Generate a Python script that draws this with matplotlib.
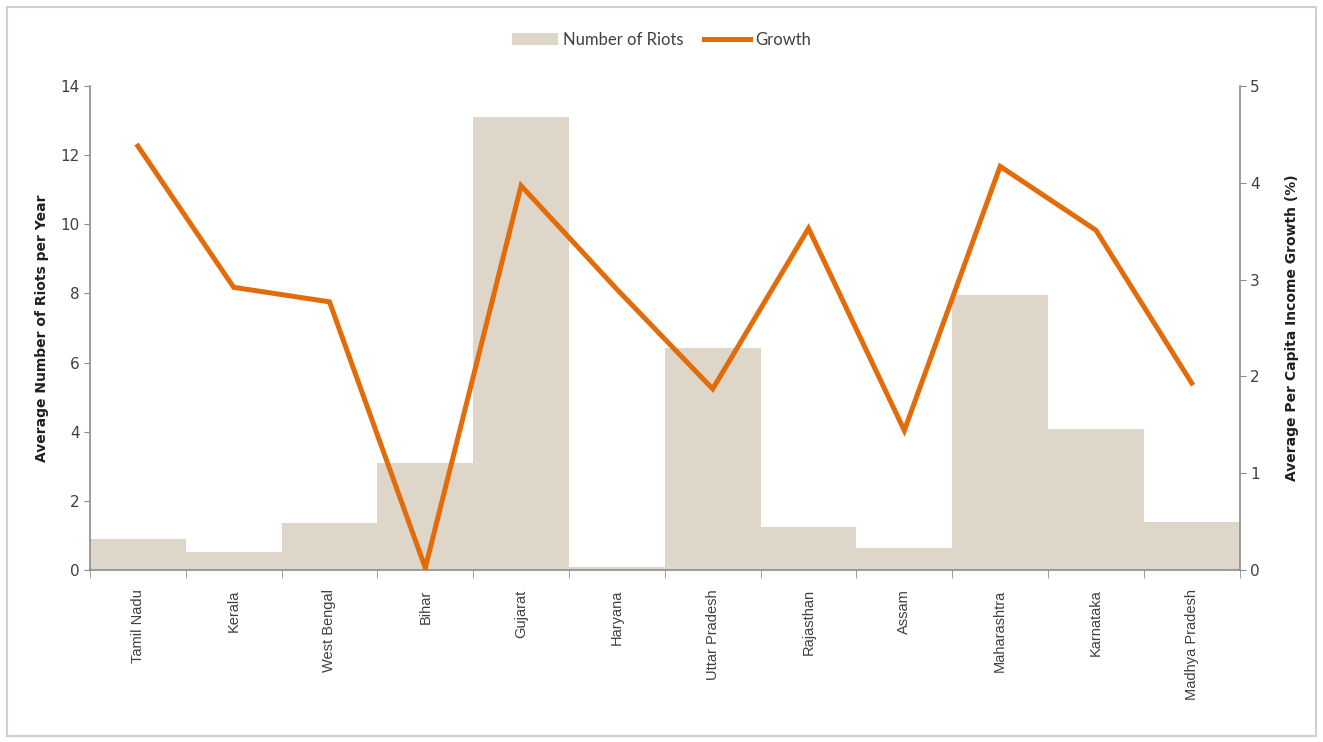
import matplotlib.pyplot as plt
import numpy as np
from matplotlib.lines import Line2D
from matplotlib.patches import Patch

states = ["Tamil Nadu", "Kerala", "West Bengal", "Bihar", "Gujarat", "Haryana",
          "Uttar Pradesh", "Rajasthan", "Assam", "Maharashtra", "Karnataka",
          "Madhya Pradesh"]
riots = [0.9, 0.52, 1.36, 3.1, 13.1, 0.08, 6.42, 1.25, 0.64, 7.95, 4.08, 1.39]
growth = [4.38, 2.92, 2.77, 0.02, 3.97, 2.9, 1.87, 3.53, 1.44, 4.17, 3.51, 1.93]

bar_col = "#ddd6c9"
line_col = "#e36c0a"
axis_col = "#8c8c8c"
text_col = "#404040"

# faint grid texture on the bars
plt.rcParams["hatch.color"] = "#e8e3da"
plt.rcParams["hatch.linewidth"] = 0.4

fig = plt.figure(figsize=(13.23, 7.42), dpi=100)
# thin grey frame around the whole chart
fig.patches.append(plt.Rectangle((0.005, 0.008), 0.99, 0.982, transform=fig.transFigure,
                                 fill=False, edgecolor="#d0d0d0", linewidth=1.5))

ax = fig.add_axes([0.068, 0.232, 0.869, 0.652])
x = np.arange(len(states))
ax.bar(x, riots, width=1.0, color=bar_col, edgecolor="none", hatch="++++",
       zorder=1)
ax.set_xlim(-0.5, len(states) - 0.5)
ax.set_ylim(0, 14)
ax.set_yticks(range(0, 15, 2))
ax.set_xticks(x)
ax.set_xticklabels(states, rotation=90, fontsize=10.5, color=text_col,
                   family="Liberation Sans")
ax.set_xticks(np.arange(-0.5, len(states), 1.0), minor=True)
ax.tick_params(axis="x", which="major", length=0, pad=14)
ax.tick_params(axis="x", which="minor", length=6, color=axis_col, direction="out")
ax.tick_params(axis="y", length=4, color=axis_col, labelcolor=text_col, labelsize=11)
ax.set_ylabel("Average Number of Riots per Year", fontsize=10, fontweight="bold",
              color="#202020", labelpad=8)
for s in ["top", "right"]:
    ax.spines[s].set_visible(False)
for s in ["left", "bottom"]:
    ax.spines[s].set_color(axis_col)
    ax.spines[s].set_linewidth(1.2)

ax2 = ax.twinx()
ax2.plot(x, growth, color=line_col, linewidth=3.6, solid_joinstyle="miter", zorder=3)
ax2.set_ylim(0, 5)
ax2.set_yticks(range(0, 6))
ax2.tick_params(axis="y", length=4, color=axis_col, labelcolor=text_col, labelsize=11)
ax2.set_ylabel("Average Per Capita Income Growth (%)", fontsize=10, fontweight="bold",
               color="#202020", labelpad=18)
for s in ["top", "left", "bottom"]:
    ax2.spines[s].set_visible(False)
ax2.spines["right"].set_color(axis_col)
ax2.spines["right"].set_linewidth(1.2)

handles = [Patch(facecolor=bar_col, edgecolor="none"),
           Line2D([0], [0], color=line_col, linewidth=3.6)]
fig.legend(handles, ["Number of Riots", "Growth"], loc="center",
           bbox_to_anchor=(0.5, 0.946), ncol=2, frameon=False,
           prop={"family": "Lato", "size": 12}, handlelength=2.8,
           handletextpad=0.3, columnspacing=1.2, labelcolor=text_col)

fig.savefig("out.png", dpi=100)
